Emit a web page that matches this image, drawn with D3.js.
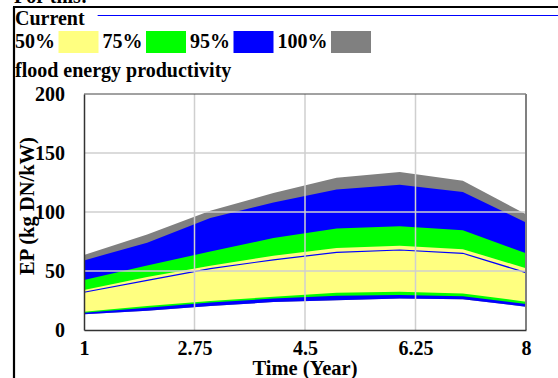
<!DOCTYPE html>
<html>
<head>
<meta charset="utf-8">
<script src="https://cdn.jsdelivr.net/npm/d3@7"></script>
<style>
  html, body { margin: 0; padding: 0; background: #fff; }
  svg { display: block; }
</style>
</head>
<body>
<svg id="chart" width="558" height="378"></svg>
<script>
// Simulation years
const years = [1, 2, 3, 4, 5, 6, 7, 8];

// Baseline run ("Current")
const current = [32, 42, 52, 59.5, 65.8, 67.8, 65, 48.6];

// Sensitivity confidence bounds (kg DN/kW)
const p50Upper  = [34, 45, 54.5, 63, 69.5, 71.3, 68.5, 52.3];
const p50Lower  = [15.5, 20.3, 24.6, 28.2, 31.6, 32.5, 31, 24];
const p75Upper  = [42.4, 54.6, 66.5, 78, 86, 88, 84.5, 65];
const p75Lower  = [14.6, 18.9, 23.2, 26.6, 29, 29.7, 28.5, 22];
const p95Upper  = [59, 74, 95, 108, 119, 123, 117, 91];
const p95Lower  = [13.4, 16.4, 20.3, 23.7, 25.2, 26.8, 26, 19.8];
const p100Upper = [63.6, 81, 101, 116, 129, 134, 126.5, 98];
const p100Lower = [13.4, 16.4, 20.3, 23.7, 25.2, 26.8, 26, 19.8];

// Axis ticks
const xTicks = [1, 2.75, 4.5, 6.25, 8];
const yTicks = [0, 50, 100, 150, 200];

// Legend
const bandLabels = ["50%", "75%", "95%", "100%"];
const bandColors = ["#ffff80", "#00ff00", "#0000ff", "#808080"];

const FONT = "'Liberation Serif', 'Times New Roman', serif";
const fontSize = 20;

const svg = d3.select("#chart")
  .attr("font-family", FONT).attr("font-weight", "bold");

function label(sel) {
  return sel.attr("font-family", FONT).attr("font-weight", "bold")
    .attr("font-size", fontSize).attr("fill", "#000");
}

const plot = { left: 84, right: 526, top: 94, bottom: 330 };

const x = d3.scaleLinear().domain([1, 8]).range([plot.left, plot.right]);
const y = d3.scaleLinear().domain([0, 200]).range([plot.bottom, plot.top]);

// Outer panel frame
svg.append("line").attr("x1", 14).attr("x2", 14).attr("y1", 7).attr("y2", 378)
  .attr("stroke", "#000").attr("stroke-width", 2.2);
svg.append("line").attr("x1", 13).attr("x2", 558).attr("y1", 7).attr("y2", 7)
  .attr("stroke", "#000").attr("stroke-width", 2.2);

// Heading above the panel
label(svg.append("text")).attr("x", 14).attr("y", 3).text("For this:");

// Run name with its line sample
const cur = label(svg.append("text")).attr("x", 15).attr("y", 25).text("Current");
const curW = cur.node().getComputedTextLength();
svg.append("line").attr("x1", 15 + curW + 13).attr("x2", 558).attr("y1", 15.5).attr("y2", 15.5)
  .attr("stroke", "#0000ff").attr("stroke-width", 1);

// Band legend
let lx = 15;
bandLabels.forEach((lab, i) => {
  const t = label(svg.append("text")).attr("x", lx).attr("y", 48).text(lab);
  lx += t.node().getComputedTextLength() + 3.5;
  svg.append("rect").attr("x", lx).attr("y", 31).attr("width", 40).attr("height", 22)
    .attr("fill", bandColors[i]);
  lx += 40 + 4;
});

// Variable name
label(svg.append("text")).attr("x", 15).attr("y", 77).text("flood energy productivity");

// Bands, widest first
const bands = [
  { lo: p100Lower, hi: p100Upper, color: bandColors[3] },
  { lo: p95Lower,  hi: p95Upper,  color: bandColors[2] },
  { lo: p75Lower,  hi: p75Upper,  color: bandColors[1] },
  { lo: p50Lower,  hi: p50Upper,  color: bandColors[0] }
];
bands.forEach(b => {
  const area = d3.area()
    .x((d, i) => x(years[i]))
    .y0((d, i) => y(b.lo[i]))
    .y1((d, i) => y(b.hi[i]));
  svg.append("path").datum(years).attr("d", area).attr("fill", b.color);
});

// Baseline run
const line = d3.line().x((d, i) => x(years[i])).y(d => y(d));
svg.append("path").datum(current).attr("d", line)
  .attr("fill", "none").attr("stroke", "#0000ff").attr("stroke-width", 1.2);

// Grid on top of the bands
const grid = svg.append("g").attr("stroke", "#cfcfcf").attr("stroke-width", 1.5);
xTicks.slice(1, -1).forEach(v => {
  grid.append("line").attr("x1", x(v)).attr("x2", x(v)).attr("y1", plot.top).attr("y2", plot.bottom);
});
yTicks.slice(1, -1).forEach(v => {
  grid.append("line").attr("x1", plot.left).attr("x2", plot.right).attr("y1", y(v)).attr("y2", y(v));
});

// Plot frame
svg.append("line").attr("x1", plot.left).attr("x2", plot.right).attr("y1", plot.top).attr("y2", plot.top)
  .attr("stroke", "#444").attr("stroke-width", 1);
svg.append("line").attr("x1", plot.right).attr("x2", plot.right).attr("y1", plot.top).attr("y2", plot.bottom)
  .attr("stroke", "#808080").attr("stroke-width", 2);

// Axes
const xAxis = d3.axisBottom(x).tickValues(xTicks).tickSize(0).tickPadding(11)
  .tickFormat(d => String(d));
const yAxis = d3.axisLeft(y).tickValues(yTicks).tickSize(0).tickPadding(19);

const gx = svg.append("g").attr("transform", `translate(0,${plot.bottom})`).call(xAxis);
const gy = svg.append("g").attr("transform", `translate(${plot.left},0)`).call(yAxis);
[gx, gy].forEach(g => {
  g.attr("font-family", FONT).attr("font-size", fontSize).attr("font-weight", "bold");
  label(g.selectAll("text"));
  g.select(".domain").attr("stroke", "#333").attr("stroke-width", 1.5);
});

// Axis titles
label(svg.append("text")).attr("x", (plot.left + plot.right) / 2).attr("y", 375)
  .attr("text-anchor", "middle").attr("font-size", 20.5).text("Time (Year)");
label(svg.append("text")).attr("transform", "translate(34,206) rotate(-90)")
  .attr("text-anchor", "middle").attr("font-size", 20.5).text("EP (kg DN/kW)");
</script>
</body>
</html>
